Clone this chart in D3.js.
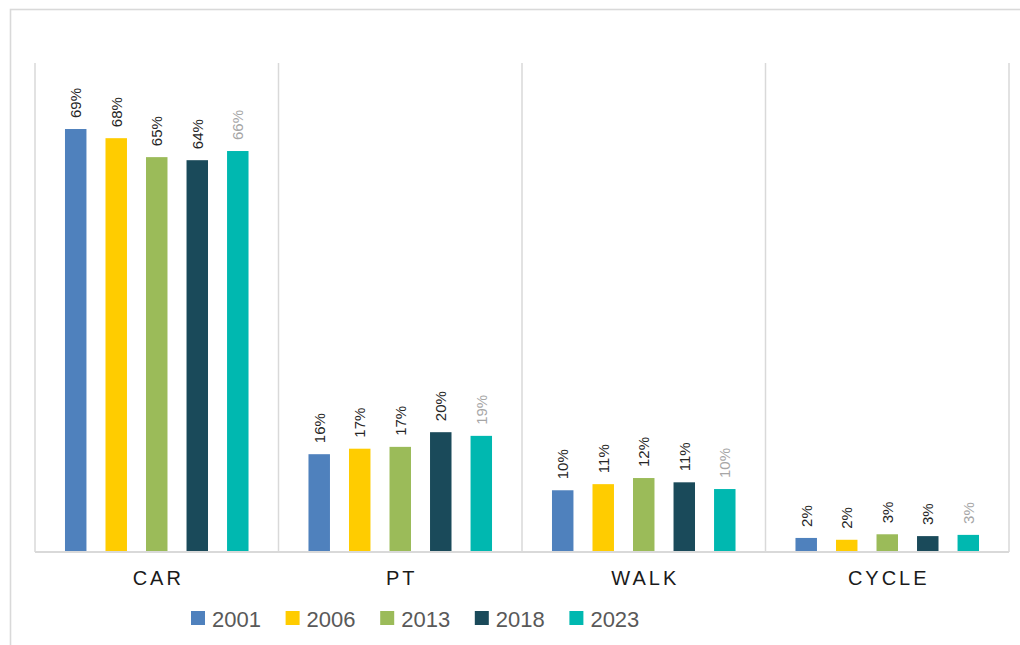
<!DOCTYPE html>
<html>
<head>
<meta charset="utf-8">
<script src="https://cdn.jsdelivr.net/npm/d3@7"></script>
<style>
  body { margin: 0; background: #fff; }
  svg { display: block; }
</style>
</head>
<body>
<div class="chart"></div>
<script>
var width = 1020,
    height = 645;

// data (percent of trips)
var categories = ["CAR", "PT", "WALK", "CYCLE"];
var years = ["2001", "2006", "2013", "2018", "2023"];
var v2001 = [69.2, 16.0, 10.1, 2.3];
var v2006 = [67.7, 16.9, 11.1, 2.0];
var v2013 = [64.6, 17.2, 12.1, 2.9];
var v2018 = [64.1, 19.6, 11.4, 2.6];
var v2023 = [65.6, 19.0, 10.3, 2.8];
var seriesValues = [v2001, v2006, v2013, v2018, v2023];
var colors = ["#4f81bd", "#ffcc00", "#9bbb59", "#1a4a5a", "#00b8b0"];

var svg = d3.select(".chart").append("svg")
    .attr("width", width)
    .attr("height", height);

// outer chart border
svg.append("rect")
    .attr("x", 10.5).attr("y", 9.5)
    .attr("width", 1030).attr("height", 700)
    .attr("fill", "none")
    .attr("stroke", "#d9d9d9")
    .attr("stroke-width", 1.6);

var plotLeft = 35, plotRight = 1009, plotTop = 63, plotBottom = 552;

var x0 = d3.scaleBand()
    .domain(categories)
    .range([plotLeft, plotRight]);

var x1 = d3.scaleBand()
    .domain(years)
    .range([0, x0.bandwidth()])
    .paddingInner(0.47)
    .paddingOuter(0.74);

var y = d3.scaleLinear()
    .domain([0, 80])
    .range([plotBottom, plotTop]);

// vertical separators between categories
var seps = categories.map(function(c) { return x0(c); }).concat([plotRight]);
svg.append("g").selectAll("line")
    .data(seps)
    .enter().append("line")
    .attr("x1", d => d).attr("x2", d => d)
    .attr("y1", plotTop).attr("y2", plotBottom)
    .attr("stroke", "#d9d9d9")
    .attr("stroke-width", 1.5);

var rows = [];
categories.forEach(function(c, ci) {
    years.forEach(function(yr, yi) {
        rows.push({cat: c, year: yr, yi: yi, value: seriesValues[yi][ci]});
    });
});

var bars = svg.append("g").selectAll("rect")
    .data(rows)
    .enter().append("rect")
    .attr("x", d => x0(d.cat) + x1(d.year))
    .attr("y", d => y(d.value))
    .attr("width", x1.bandwidth())
    .attr("height", d => y(0) - y(d.value))
    .attr("fill", d => colors[d.yi]);

// data labels, rotated
svg.append("g").selectAll("text")
    .data(rows)
    .enter().append("text")
    .attr("transform", function(d) {
        var cx = x0(d.cat) + x1(d.year) + x1.bandwidth() / 2 + 5.5;
        return "translate(" + cx + "," + (y(d.value) - 11) + ") rotate(-90)";
    })
    .attr("font-family", "Liberation Sans, Arial, sans-serif")
    .attr("font-size", 15)
    .attr("fill", d => d.yi === 4 ? "#a6a6a6" : "#262626")
    .text(d => Math.round(d.value) + "%");

// baseline
svg.append("line")
    .attr("x1", plotLeft).attr("x2", plotRight)
    .attr("y1", plotBottom).attr("y2", plotBottom)
    .attr("stroke", "#d9d9d9")
    .attr("stroke-width", 2);

// category labels
svg.append("g").selectAll("text")
    .data(categories)
    .enter().append("text")
    .attr("x", d => x0(d) + x0.bandwidth() / 2 + 1.5)
    .attr("y", 585)
    .attr("text-anchor", "middle")
    .attr("font-family", "Liberation Sans, Arial, sans-serif")
    .attr("font-size", 20)
    .attr("letter-spacing", 3)
    .attr("fill", "#1a1a1a")
    .text(d => d);

// legend
var legend = svg.append("g").selectAll("g")
    .data(years)
    .enter().append("g")
    .attr("transform", (d, i) => "translate(" + (191 + i * 94.6) + ",611)");

legend.append("rect")
    .attr("width", 14).attr("height", 14)
    .attr("fill", (d, i) => colors[i]);

legend.append("text")
    .attr("x", 21).attr("y", 15.5)
    .attr("font-family", "Liberation Sans, Arial, sans-serif")
    .attr("font-size", 22)
    .attr("fill", "#595959")
    .text(d => d);
</script>
</body>
</html>
